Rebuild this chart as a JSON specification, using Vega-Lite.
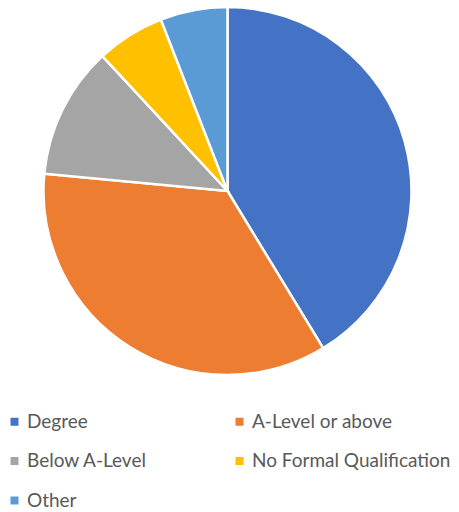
{
  "$schema": "https://vega.github.io/schema/vega-lite/v6.json",
  "width": 455,
  "height": 382,
  "padding": 0,
  "autosize": {"type": "pad"},
  "background": "white",
  "data": {
    "values": [
      {"category": "Degree", "value": 41.3, "rank": 1},
      {"category": "A-Level or above", "value": 35.2, "rank": 2},
      {"category": "Below A-Level", "value": 11.6, "rank": 3},
      {"category": "No Formal Qualification", "value": 6.0, "rank": 4},
      {"category": "Other", "value": 5.9, "rank": 5}
    ]
  },
  "mark": {"type": "arc", "outerRadius": 184, "stroke": "white", "strokeWidth": 2.5},
  "encoding": {
    "theta": {"field": "value", "type": "quantitative", "stack": true},
    "order": {"field": "rank", "type": "quantitative"},
    "color": {
      "field": "category",
      "type": "nominal",
      "sort": ["Degree", "A-Level or above", "Below A-Level", "No Formal Qualification", "Other"],
      "scale": {
        "domain": ["Degree", "A-Level or above", "Below A-Level", "No Formal Qualification", "Other"],
        "range": ["#4472C4", "#ED7D31", "#A5A5A5", "#FFC000", "#5B9BD5"]
      },
      "legend": {
        "title": null,
        "orient": "none",
        "direction": "horizontal",
        "legendX": 5,
        "legendY": 412,
        "columns": 2,
        "columnPadding": 83,
        "rowPadding": 19.5,
        "symbolType": "square",
        "symbolSize": 64,
        "symbolStrokeWidth": 0,
        "labelFont": "Lato",
        "labelFontSize": 19,
        "labelColor": "#595959",
        "labelOffset": 3,
        "labelLimit": 300
      }
    }
  }
}
